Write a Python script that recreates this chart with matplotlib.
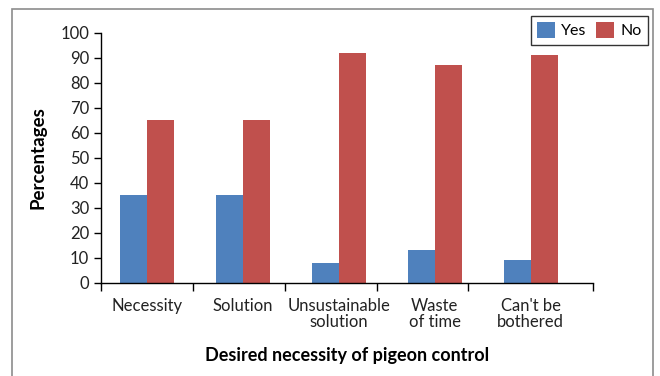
import numpy as np
import matplotlib
matplotlib.use("Agg")
from matplotlib import pyplot as plt
from matplotlib.patches import Rectangle

# Survey responses (% of respondents)
categories = ["Necessity", "Solution", "Unsustainable\nsolution", "Waste\nof time", "Can't be\nbothered"]
yes_vals = [35, 35, 8, 13, 9]
no_vals = [65, 65, 92, 87, 91]

plt.rcParams['font.family'] = ['Lato', 'DejaVu Sans']

fig = plt.figure(figsize=(6.6, 3.76), dpi=100)
ax = fig.add_axes([0.153, 0.248, 0.745, 0.665])

# grey frame around the whole chart
fig.patches.append(Rectangle((0.018, -0.01), 0.972, 0.985, transform=fig.transFigure,
                             fill=False, edgecolor='#8c8c8c', linewidth=1.2))

x = np.arange(len(categories))
w = 0.28
ax.bar(x - w/2, yes_vals, w, color='#4F81BD', label='Yes')
ax.bar(x + w/2, no_vals, w, color='#C0504D', label='No')

ax.set_ylim(0, 100)
ax.set_yticks(range(0, 101, 10))
ax.set_xlim(-0.476, 4.646)
ax.set_xticks(x)
ax.set_xticklabels(categories, fontsize=12, color='#222222', linespacing=1.0)
ax.tick_params(axis='x', length=0, pad=11)
# category separators as minor ticks
ax.set_xticks([-0.476, 0.48, 1.44, 2.4, 3.35, 4.646], minor=True)
ax.tick_params(axis='x', which='minor', length=6, width=1, direction='out')
ax.tick_params(axis='y', length=5, width=1, direction='out', labelsize=12, labelcolor='#222222')

for s in ['top', 'right']:
    ax.spines[s].set_visible(False)
for s in ['left', 'bottom']:
    ax.spines[s].set_linewidth(1)

ax.set_ylabel('Percentages', fontsize=13.5, fontweight='bold', labelpad=10)
ax.set_xlabel('Desired necessity of pigeon control', fontsize=13, fontweight='bold', labelpad=12)

leg = ax.legend(loc='upper right', bbox_to_anchor=(648/660, 1 - 16/376),
                bbox_transform=fig.transFigure, borderaxespad=0, ncol=2, fontsize=11.5,
                frameon=True, fancybox=False, handlelength=1.1, handleheight=1.1,
                columnspacing=0.6, handletextpad=0.4, borderpad=0.4)
leg.get_frame().set_edgecolor('black')
leg.get_frame().set_linewidth(1)

fig.savefig('out.png', dpi=100)
